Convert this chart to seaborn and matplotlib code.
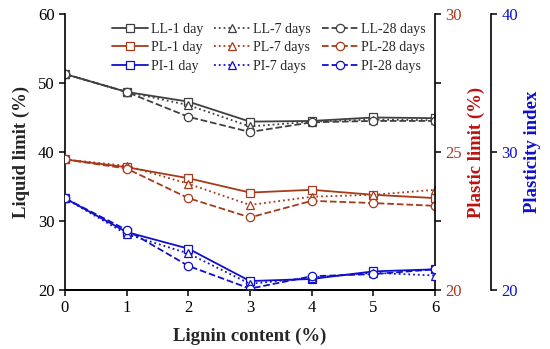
import matplotlib
matplotlib.use("Agg")
import matplotlib.pyplot as plt
import seaborn as sns
import pandas as pd

lignin = [0, 1, 2, 3, 4, 5, 6]
ll_1 = [51.3, 48.7, 47.3, 44.4, 44.5, 45.0, 44.9]
ll_7 = [51.3, 48.7, 46.8, 43.7, 44.4, 44.7, 44.6]
ll_28 = [51.3, 48.7, 45.1, 42.9, 44.3, 44.5, 44.5]
pl_1 = [24.73, 24.45, 24.05, 23.53, 23.63, 23.45, 23.33]
pl_7 = [24.73, 24.50, 23.85, 23.08, 23.38, 23.45, 23.63]
pl_28 = [24.73, 24.40, 23.33, 22.63, 23.23, 23.15, 23.05]
pi_1 = [26.65, 24.20, 23.00, 20.65, 20.80, 21.35, 21.50]
pi_7 = [26.65, 24.05, 22.65, 20.45, 20.90, 21.25, 21.05]
pi_28 = [26.65, 24.35, 21.75, 20.10, 21.00, 21.15, 21.50]
ages = ["1 day", "7 days", "28 days"]

sns.set_style("ticks")
plt.rcParams["font.family"] = ["Liberation Serif", "DejaVu Serif"]

fig = plt.figure(figsize=(5.5, 3.49), dpi=100)
ax = fig.add_axes([0.118, 0.169, 0.673, 0.791])
ax2 = ax.twinx()
ax3 = ax.twinx()

c_ll = "#404040"
c_pl = "#A63A1A"
c_pi = "#1010CC"
styles = ["-", ":", "--"]
markers = ["s", "^", "o"]

groups = [
    (ax, "LL", c_ll, [ll_1, ll_7, ll_28]),
    (ax2, "PL", c_pl, [pl_1, pl_7, pl_28]),
    (ax3, "PI", c_pi, [pi_1, pi_7, pi_28]),
]
handles = {}
for a, name, col, series in groups:
    for i, (vals, age) in enumerate(zip(series, ages)):
        df = pd.DataFrame({"x": lignin, "y": vals})
        sns.lineplot(data=df, x="x", y="y", ax=a, color=col, linestyle=styles[i],
                     marker=markers[i], markersize=6, markerfacecolor="white",
                     markeredgecolor=col, markeredgewidth=0.9, linewidth=1.3,
                     label=f"{name}-{age}", legend=False)
        handles[(name, i)] = a.get_lines()[-1]

ax.set_xlim(0, 6)
ax.set_ylim(20, 60)
ax2.set_ylim(20, 30)
ax3.set_ylim(20, 40)
ax.set_xticks(lignin)
ax.set_yticks([20, 30, 40, 50, 60])
ax2.set_yticks([20, 22.5, 25, 27.5, 30])
ax2.set_yticklabels(["20", "", "25", "", "30"])
ax3.set_yticks([20, 30, 40])

for a in (ax, ax2, ax3):
    a.spines["top"].set_visible(False)
ax2.spines["left"].set_visible(False)
ax3.spines["left"].set_visible(False)
ax.spines["right"].set_visible(False)
ax3.spines["right"].set_position(("axes", 1.151))
for a in (ax, ax2, ax3):
    for s in a.spines.values():
        s.set_linewidth(1.2)
        s.set_color("black")

ax.tick_params(axis="both", labelsize=12, width=1.1, length=4, colors="black")
ax2.tick_params(axis="y", labelsize=12, width=1.1, length=4, labelcolor=c_pl, color="black")
ax3.tick_params(axis="y", labelsize=12, width=1.1, length=4, labelcolor=c_pi, color="black")

ax.set_xlabel("Lignin content (%)", fontsize=13.5, fontweight="bold", labelpad=8)
ax.set_ylabel("Liquid limit (%)", fontsize=13.5, fontweight="bold", labelpad=6)
ax2.set_ylabel("Plastic limit (%)", fontsize=13.5, fontweight="bold", color="#C01010", labelpad=4)
ax3.set_ylabel("Plasticity index", fontsize=13.5, fontweight="bold", color=c_pi, labelpad=4)

order = [("LL", 0), ("PL", 0), ("PI", 0), ("LL", 1), ("PL", 1), ("PI", 1), ("LL", 2), ("PL", 2), ("PI", 2)]
hs = [handles[k] for k in order]
ls = [h.get_label() for h in hs]
leg = ax3.legend(hs, ls, ncol=3, loc="upper left", bbox_to_anchor=(0.127, 0.968),
                 frameon=False, fontsize=10, handlelength=2.6, handletextpad=0.2,
                 columnspacing=0.8, labelspacing=0.4, borderaxespad=0, borderpad=0)

fig.savefig("out.png", dpi=100)
